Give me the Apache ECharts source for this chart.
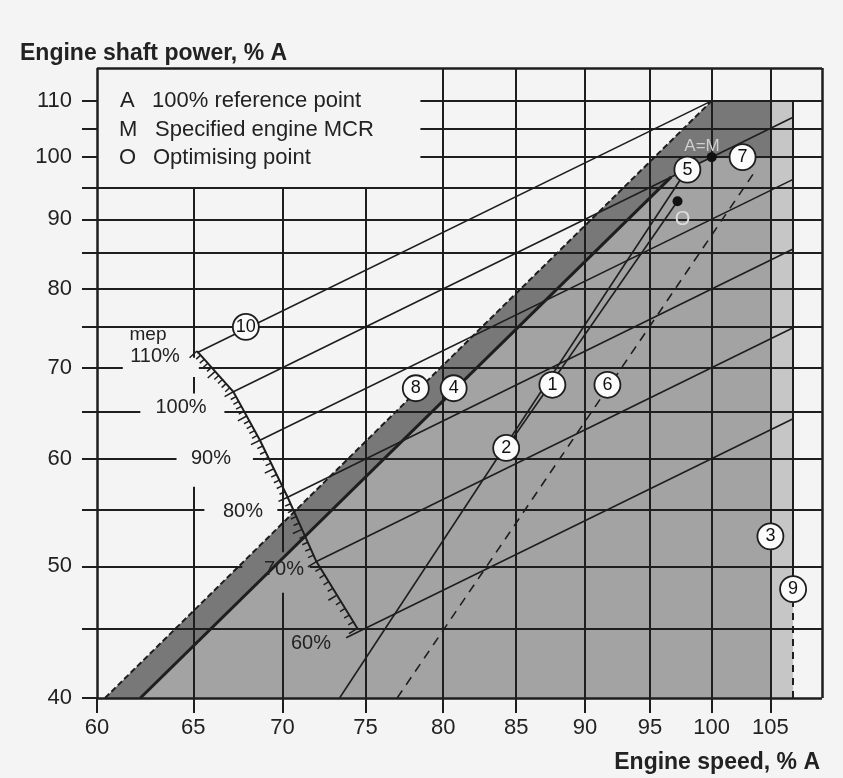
<!DOCTYPE html>
<html>
<head>
<meta charset="utf-8">
<script src="https://cdn.jsdelivr.net/npm/echarts@6/dist/echarts.min.js"></script>
<style>
  html, body { margin: 0; background: #f4f4f4; }
  #chart { width: 843px; height: 778px; }
</style>
</head>
<body>
<div id="chart"></div>
<script>
// axes (log-log load diagram)
var speedMin = 60, speedMax = 109.6;
var powerMin = 40, powerMax = 116.3;
var speedTicks = [60, 65, 70, 75, 80, 85, 90, 95, 100, 105];
var powerTicks = [40, 45, 50, 55, 60, 65, 70, 75, 80, 85, 90, 95, 100, 105, 110];
var powerLabels = [40, 50, 60, 70, 80, 90, 100, 110];

// shaded zones, [speed, power] corners
var serviceZone = [[62.2, 40], [96.7, 96.7], [100, 100], [105, 100], [105, 40]];
var overloadZone = [[60.4, 40], [100, 110], [105, 110], [105, 100], [100, 100], [96.7, 96.7], [62.2, 40]];
var trialZone = [[105, 40], [105, 110], [107, 110], [107, 40]];

// constant mep lines (line 10)
var mepValues = [110, 100, 90, 80, 70, 60];
var mepStart = [[65.2, 71.8], [67.2, 67.2], [68.7, 61.9], [70.3, 56.2], [72.0, 50.4], [73.8, 44.3]];
var mepEnd = [[100, 110], [107, 107], [107, 96.3], [107, 85.6], [107, 74.9], [107, 64.2]];
var rulerNodes = [[65.2, 72.0], [67.2, 67.2], [68.7, 61.9], [70.3, 56.2], [72.0, 50.4], [74.5, 45.0]];

// limit and propeller lines
var line1 = [[84.3, 61.1], [97.2, 92.8]];
var line2 = [[73.4, 40], [98, 98]];
var line4 = [[62.2, 40], [96.7, 96.7]];
var line6 = [[77.0, 40], [103.8, 98]];
var line8 = [[60.4, 40], [100, 110]];
var line9 = [[107, 48], [107, 110]];
var line9Trial = [[107, 40], [107, 47]];

// points
var pointM = [100, 100];
var pointO = [97.2, 92.8];

// circled line numbers
var markerIds = ['10', '8', '4', '1', '6', '2', '5', '7', '3', '9'];
var markerSpeed = [67.9, 78.2, 80.7, 87.6, 91.7, 84.3, 98.0, 102.6, 105, 107];
var markerPower = [75.0, 67.6, 67.6, 68.0, 68.0, 61.1, 97.9, 100.0, 52.6, 48.1];

// layout: legend box and label gaps in the grid
var legendEdgeSpeed = 78.5, legendEdgePower = 95;
var hGaps = { 70: [[61.3, 65.3]], 65: [[62.2, 66.7]], 60: [[64.1, 68.3]], 55: [[65.6, 69.7]], 50: [[67.7, 71.6]] };
var vGaps = { 65: [[57.2, 67.0], [68.9, 71.2]], 70: [[47.8, 51.2]] };

var ink = '#1e1e1e';
var font = '"Liberation Sans", Arial, sans-serif';

function gridSegments() {
    var segs = [];
    speedTicks.slice(1).forEach(function (n) {
        var top = n < legendEdgeSpeed ? legendEdgePower : powerMax;
        var from = powerMin;
        (vGaps[n] || []).forEach(function (g) {
            segs.push({ coords: [[n, from], [n, g[0]]] });
            from = g[1];
        });
        segs.push({ coords: [[n, from], [n, top]] });
    });
    powerTicks.slice(1).forEach(function (p) {
        var from = p > legendEdgePower ? legendEdgeSpeed : speedMin;
        (hGaps[p] || []).forEach(function (g) {
            segs.push({ coords: [[from, p], [g[0], p]] });
            from = g[1];
        });
        segs.push({ coords: [[from, p], [speedMax, p]] });
    });
    return segs;
}

var frame = [
    { coords: [[speedMin, powerMin], [speedMax, powerMin]] },
    { coords: [[speedMin, powerMin], [speedMin, powerMax]] },
    { coords: [[speedMin, powerMax], [speedMax, powerMax]] },
    { coords: [[speedMax, powerMin], [speedMax, powerMax]] }
];

var zones = [serviceZone, overloadZone, trialZone];
var zoneColors = ['#a3a3a3', '#787878', '#c6c6c6'];

function seg(coords, style) {
    return { coords: coords, lineStyle: style };
}

var thin = { color: ink, width: 1.6, type: 'solid', opacity: 1 };
var limitLines = [
    seg(line1, thin),
    seg(line2, thin),
    seg(line4, { color: ink, width: 3, opacity: 1 }),
    seg(line6, { color: ink, width: 1.6, type: [9, 7], opacity: 1 }),
    seg(line8, { color: ink, width: 2, type: [6, 3], opacity: 1 }),
    seg(line9, { color: ink, width: 2, opacity: 1 }),
    seg(line9Trial, { color: ink, width: 2, type: [7, 6], opacity: 1 })
];
var mepLines = mepValues.map(function (m, i) {
    return { name: m + '%', coords: [mepStart[i], mepEnd[i]] };
});

function txt(text, x, y, size, opts) {
    opts = opts || {};
    return {
        type: 'text', x: x, y: y, silent: true, z: 20,
        style: {
            text: text, fill: opts.fill || '#222',
            font: (opts.bold ? 'bold ' : '') + size + 'px ' + font,
            align: opts.align || 'left', verticalAlign: 'middle'
        }
    };
}

var myChart = echarts.init(document.getElementById('chart'));
var option = {
    backgroundColor: '#f4f4f4',
    animation: false,
    grid: { left: 97, top: 68, right: 21, bottom: 80 },
    xAxis: {
        type: 'log', logBase: 10, min: speedMin, max: speedMax,
        axisLine: { show: false },
        splitLine: { show: false },
        axisTick: { customValues: speedTicks, length: 15, lineStyle: { color: ink, width: 2 } },
        axisLabel: { customValues: speedTicks, margin: 19, fontSize: 22, color: '#222', fontFamily: font }
    },
    yAxis: {
        type: 'log', logBase: 10, min: powerMin, max: powerMax,
        axisLine: { show: false },
        splitLine: { show: false },
        axisTick: { customValues: powerTicks, length: 15, lineStyle: { color: ink, width: 2 } },
        axisLabel: { customValues: powerLabels, margin: 25, fontSize: 22, color: '#222', fontFamily: font }
    },
    series: [
        {
            type: 'custom', name: 'zones', coordinateSystem: 'cartesian2d', z: 1, silent: true,
            data: zones.map(function (z, i) { return [z[0][0], z[0][1], i]; }),
            encode: { x: 0, y: 1 },
            renderItem: function (params, api) {
                var i = api.value(2);
                return {
                    type: 'polygon',
                    shape: { points: zones[i].map(function (v) { return api.coord(v); }) },
                    style: { fill: zoneColors[i] }
                };
            }
        },
        {
            type: 'lines', name: 'grid', coordinateSystem: 'cartesian2d', z: 3, silent: true,
            data: gridSegments(),
            lineStyle: { color: ink, width: 2, opacity: 1, curveness: 0 }
        },
        {
            type: 'lines', name: 'frame', coordinateSystem: 'cartesian2d', z: 4, silent: true, clip: false,
            data: frame,
            lineStyle: { color: ink, width: 2.5, opacity: 1, curveness: 0 }
        },
        {
            type: 'lines', name: 'mep', coordinateSystem: 'cartesian2d', z: 5, silent: true,
            data: mepLines,
            lineStyle: { color: ink, width: 1.6, opacity: 1, curveness: 0 }
        },
        {
            type: 'lines', name: 'limits', coordinateSystem: 'cartesian2d', z: 5, silent: true,
            data: limitLines,
            lineStyle: { color: ink, width: 1.6, opacity: 1, curveness: 0 }
        },
        {
            type: 'custom', name: 'mep scale', coordinateSystem: 'cartesian2d', z: 6, silent: true,
            data: [[rulerNodes[0][0], rulerNodes[0][1]]],
            encode: { x: 0, y: 1 },
            renderItem: function (params, api) {
                var pts = rulerNodes.map(function (v) { return api.coord(v); });
                var children = [{
                    type: 'polyline', shape: { points: pts },
                    style: { stroke: ink, lineWidth: 2, fill: null }
                }];
                for (var s = 0; s < pts.length - 1; s++) {
                    var a = pts[s], b = pts[s + 1];
                    var dx = b[0] - a[0], dy = b[1] - a[1], len = Math.sqrt(dx * dx + dy * dy);
                    var nx = -dy / len, ny = dx / len;
                    for (var k = 0; k <= 10; k++) {
                        if (k === 10 && s < pts.length - 2) continue;
                        var x = a[0] + dx * k / 10, y = a[1] + dy * k / 10;
                        var L = (k % 5 === 0) ? 10 : 6;
                        children.push({
                            type: 'line',
                            shape: { x1: x, y1: y, x2: x + nx * L, y2: y + ny * L },
                            style: { stroke: ink, lineWidth: 1.5 }
                        });
                    }
                }
                return { type: 'group', children: children };
            }
        },
        {
            type: 'scatter', name: 'points', z: 7, silent: true,
            symbolSize: 10, itemStyle: { color: '#111', opacity: 1 },
            data: [pointM, pointO]
        },
        {
            type: 'scatter', name: 'point names', z: 7, silent: true,
            symbolSize: 0, itemStyle: { opacity: 1 },
            data: [
                { value: [99.2, 101.9], label: { formatter: 'A=M', color: '#cfcfcf', fontSize: 17 } },
                { value: [97.6, 89.9], label: { formatter: 'O', color: '#dedede', fontSize: 20 } }
            ],
            label: { show: true, position: 'inside', fontFamily: font }
        },
        {
            type: 'scatter', name: 'line numbers', z: 8, silent: true,
            symbol: 'circle', symbolSize: 26,
            itemStyle: { color: '#fbfbfb', borderColor: ink, borderWidth: 1.8, opacity: 1 },
            label: { show: true, position: 'inside', formatter: '{b}', fontSize: 18, color: '#111', fontFamily: font },
            data: markerIds.map(function (id, i) {
                return { name: id, value: [markerSpeed[i], markerPower[i]] };
            })
        }
    ],
    graphic: [
        txt('Engine shaft power, % A', 20, 54, 23, { bold: true }),
        txt('Engine speed, % A', 820, 763, 23, { bold: true, align: 'right' }),
        txt('A', 120, 101, 22), txt('100% reference point', 152, 101, 22),
        txt('M', 119, 130, 22), txt('Specified engine MCR', 155, 130, 22),
        txt('O', 119, 158, 22), txt('Optimising point', 153, 158, 22),
        txt('mep', 148, 335, 19, { align: 'center' }),
        txt('110%', 155, 356, 20, { align: 'center' }),
        txt('100%', 181, 407, 20, { align: 'center' }),
        txt('90%', 211, 458, 20, { align: 'center' }),
        txt('80%', 243, 511, 20, { align: 'center' }),
        txt('70%', 284, 569, 20, { align: 'center' }),
        txt('60%', 311, 643, 20, { align: 'center' })
    ]
};
myChart.setOption(option);
</script>
</body>
</html>
